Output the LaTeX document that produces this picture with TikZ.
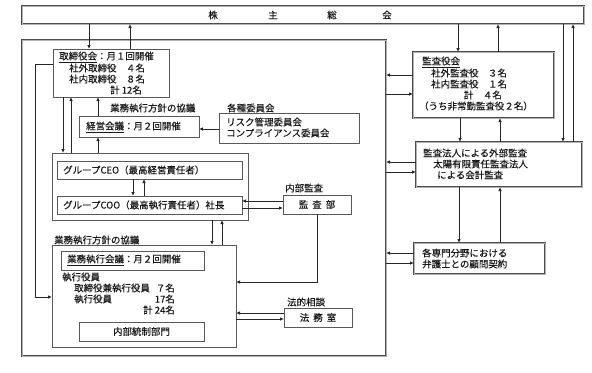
\documentclass[tikz,border=0pt]{standalone}
\usepackage{fontspec}
\setmainfont{Noto Sans CJK JP}[FakeBold=0.35]
\usetikzlibrary{arrows.meta}
\tikzset{
  box/.style={draw=black!65, line width=0.8bp, fill=white, inner sep=0, outer sep=0, anchor=north west},
  dbox/.style={draw=black!70, double=black!30, double distance=0.8bp, line width=0.75bp, fill=white, inner sep=0, outer sep=0, anchor=north west},
  arr/.style={-{Latex[length=4bp,width=3.5bp]}, line width=0.8bp, draw=black!85},
  ln/.style={line width=0.8bp, draw=black!85},
  tw/.style={inner sep=0, anchor=west, text=black!90},
  te/.style={inner sep=0, anchor=east, text=black!90},
  tc/.style={inner sep=0, anchor=center, text=black!90},
}
\begin{document}
\begin{tikzpicture}[x=1bp, y=-1bp, font=\fontsize{9.5}{11}\selectfont]
\useasboundingbox[fill=white] (0,0) rectangle (592,372);

% boxes
\node[dbox, minimum width=562bp, minimum height=18bp] (top) at (22,6) {};
\node[dbox, minimum width=364bp, minimum height=316bp] (cont) at (22,40) {};
\node[box, minimum width=116bp, minimum height=48bp] (tori) at (53,49) {};
\node[box, minimum width=120bp, minimum height=21bp] (keiei) at (79,116) {};
\node[box, minimum width=140bp, minimum height=30bp] (iin) at (219,113) {};
\node[box, minimum width=196bp, minimum height=67bp] (grp) at (52,153) {};
\node[box, minimum width=185bp, minimum height=18bp] (ceo) at (57,161) {};
\node[box, minimum width=185bp, minimum height=18bp] (coo) at (57,196) {};
\node[box, minimum width=68bp, minimum height=19bp] (kansabu) at (283,195) {};
\node[box, minimum width=184bp, minimum height=102bp] (gyomu) at (52,245) {};
\node[box, minimum width=143bp, minimum height=19bp] (gkaigi) at (61,251) {};
\node[box, minimum width=125bp, minimum height=19bp] (naibu) at (79,322) {};
\node[box, minimum width=68bp, minimum height=19bp] (homu) at (284,308) {};
\node[dbox, minimum width=141bp, minimum height=66bp] (kyaku) at (413,52) {};
\node[dbox, minimum width=166bp, minimum height=45bp] (khojin) at (416,142) {};
\node[dbox, minimum width=131bp, minimum height=31bp] (bengo) at (414,243) {};

% texts
\node[tc] (s1) at (213,15) {株};
\node[tc] (s2) at (273,15) {主};
\node[tc] (s3) at (332,15) {総};
\node[tc] (s4) at (387,15) {会};

\node[tw] (t1) at (59,57) {\underline{取締役会}：月１回開催};
\node[tw] (t2) at (69,68) {社外取締役　４名};
\node[tw] (t3) at (69,79) {社内取締役　８名};
\node[te] (t4) at (142,90) {計 12名};

\node[tw] (l1) at (110,108) {業務執行方針の協議};
\node[tw] (l2) at (227,108) {各種委員会};
\node[tw] (t5) at (86,127) {\underline{経営会議}：月２回開催};
\node[tw] (t6) at (226,122) {リスク管理委員会};
\node[tw] (t7) at (226,133) {コンプライアンス委員会};

\node[tw] (t8) at (63,170) {グループCEO（最高経営責任者）};
\node[tw] (t9) at (63,205) {グループCOO（最高執行責任者）社長};
\node[tw] (l3) at (285,188) {内部監査};
\node[tc] (t10) at (kansabu.center) {監\hspace{4bp}査\hspace{4bp}部};

\node[tw] (l4) at (54,240) {業務執行方針の協議};
\node[tw] (t11) at (67,260) {\underline{業務執行会議}：月２回開催};
\node[tw] (t12) at (62,277) {執行役員};
\node[tw] (t13) at (74,288) {取締役兼執行役員};
\node[te] (t14) at (175,288) {７名};
\node[tw] (t15) at (74,299) {執行役員};
\node[te] (t16) at (175,299) {17名};
\node[te] (t17) at (175,310) {計 24名};
\node[tc] (t18) at (naibu.center) {内部統制部門};

\node[tw] (l5) at (287,302) {法的相談};
\node[tc] (t19) at (homu.center) {法\hspace{4bp}務\hspace{4bp}室};

\node[tw] (t20) at (422,62) {\underline{監査役会}};
\node[tw] (t21) at (431,73) {社外監査役　３名};
\node[tw] (t22) at (431,84) {社内監査役　１名};
\node[te] (t23) at (502,95) {計　４名};
\node[tw] (t24) at (419,106) {（うち非常勤監査役２名）};

\node[tw] (t25) at (423,153) {監査法人による外部監査};
\node[tw] (t26) at (433,164) {太陽有限責任監査法人};
\node[tw] (t27) at (437,175) {による会計監査};

\node[tw] (t28) at (422,253) {各専門分野における};
\node[tw] (t29) at (422,264) {弁護士との顧問契約};

% connectors
\draw[arr] (top.south -| 89,0) -- (tori.north -| 89,0);
\draw[arr] (tori.north -| 130,0) -- (top.south -| 130,0);
\draw[arr] (tori.south -| 63,0) -- (grp.north -| 63,0);
\draw[arr] (grp.north -| 71,0) -- (tori.south -| 71,0);
\draw[arr] (keiei.north -| 98,0) -- (tori.south -| 98,0);
\draw[arr] (grp.north -| 98,0) -- (keiei.south -| 98,0);
\draw[arr] (iin.west |- 0,129) -- (keiei.east |- 0,129);
\draw[arr] (ceo.south -| 133,0) -- (coo.north -| 133,0);
\draw[arr] (coo.north -| 144,0) -- (ceo.south -| 144,0);
\draw[arr] (kansabu.west |- 0,201) -- (coo.east |- 0,201);
\draw[arr] (coo.east |- 0,208) -- (kansabu.west |- 0,208);
\draw[arr] (grp.south -| 212,0) -- (gyomu.north -| 212,0);
\draw[arr] (gyomu.north -| 222,0) -- (grp.south -| 222,0);
\draw[arr] (kansabu.south -| 317,0) -- (317,282) -- (gyomu.east |- 0,282);
\draw[arr] (homu.west |- 0,313) -- (gyomu.east |- 0,313);
\draw[arr] (gyomu.east |- 0,319) -- (homu.west |- 0,319);
\draw[arr] (tori.west |- 0,64) -- (35,64) -- (35,297) -- (gyomu.west |- 0,297);

\draw[arr] (top.south -| 458,0) -- (kyaku.north -| 458,0);
\draw[arr] (kyaku.north -| 498,0) -- (top.south -| 498,0);
\draw[arr] (kyaku.west |- 0,75) -- (cont.east |- 0,75);
\draw[arr] (cont.east |- 0,94) -- (kyaku.west |- 0,94);
\draw[arr] (kyaku.south -| 460,0) -- (khojin.north -| 460,0);
\draw[arr] (khojin.north -| 500,0) -- (kyaku.south -| 500,0);
\draw[arr] (top.south -| 563,0) -- (khojin.north -| 563,0);
\draw[arr] (khojin.north -| 573,0) -- (top.south -| 573,0);
\draw[arr] (khojin.west |- 0,162) -- (cont.east |- 0,162);
\draw[arr] (cont.east |- 0,172) -- (khojin.west |- 0,172);
\draw[arr] (khojin.south -| 459,0) -- (bengo.north -| 459,0);
\draw[arr] (bengo.north -| 500,0) -- (khojin.south -| 500,0);
\draw[arr] (bengo.west |- 0,253) -- (cont.east |- 0,253);
\draw[arr] (cont.east |- 0,263) -- (bengo.west |- 0,263);
\end{tikzpicture}
\end{document}
